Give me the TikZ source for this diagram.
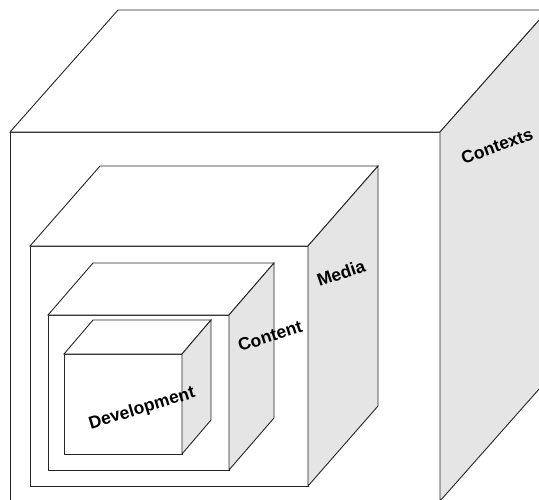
\documentclass[tikz,border=0pt]{standalone}
\usepackage{fontspec}
\setmainfont{Liberation Sans}
\tikzset{
  edge/.style={draw=black!85, line width=0.9pt, line join=miter},
  sideface/.style={edge, fill=black!10},
  topface/.style={edge, fill=white},
  frontface/.style={edge, fill=white},
  lbl/.style={font=\bfseries\fontsize{17.5}{20}\selectfont, inner sep=0pt},
}
% cube: #1 x0, #2 y0, #3 x1, #4 y1, #5 dx, #6 dy
\newcommand{\mycube}[6]{%
  \path[frontface] (#1,#2) rectangle (#3,#4);
  \path[topface] (#1,#2) -- ++(#5,-#6) -- (#3+#5,#2-#6) -- (#3,#2) -- cycle;
  \path[sideface] (#3,#2) -- (#3+#5,#2-#6) -- (#3+#5,#4-#6) -- (#3,#4) -- cycle;
}
\begin{document}
\begin{tikzpicture}[x=1pt,y=-1pt]
\useasboundingbox (0,0) rectangle (539,499);
\clip (0,0) rectangle (539,499);
\mycube{10}{132}{440}{501}{108}{122}
\mycube{30}{246}{308}{486}{70}{80}
\mycube{48}{315}{229}{470}{45}{52}
\mycube{64}{354}{182}{454}{29}{34}
\node[lbl, rotate=20] (contexts) at (497,146) {Contexts};
\node[lbl, rotate=19] (media) at (341,273) {Media};
\node[lbl, rotate=18] (content) at (270,336) {Content};
\node[lbl, rotate=17] (dev) at (142,409) {Development};
\end{tikzpicture}
\end{document}
